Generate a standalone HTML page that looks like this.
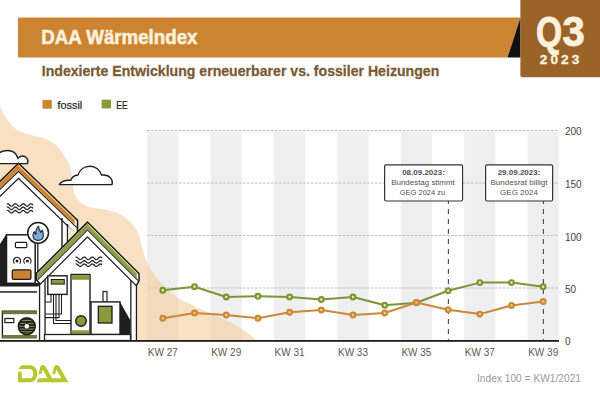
<!DOCTYPE html>
<html><head><meta charset="utf-8">
<style>
html,body{margin:0;padding:0;background:#fff;width:600px;height:400px;overflow:hidden}
svg{display:block}
text{font-family:"Liberation Sans",sans-serif}
</style></head>
<body>
<svg width="600" height="400" viewBox="0 0 600 400">
<rect x="0" y="0" width="600" height="400" fill="#fff"/>

<!-- chart stripes -->
<g fill="#efefef">
<rect x="147.2" y="132" width="31.2" height="208"/>
<rect x="210.6" y="132" width="31.2" height="208"/>
<rect x="274.0" y="132" width="31.2" height="208"/>
<rect x="337.4" y="132" width="31.2" height="208"/>
<rect x="400.8" y="132" width="31.2" height="208"/>
<rect x="464.2" y="132" width="31.2" height="208"/>
<rect x="527.6" y="132" width="31.2" height="208"/>
</g>
<!-- gridlines -->
<g stroke="#bdbdbd" stroke-width="1" stroke-dasharray="2.6 1.4">
<line x1="147" y1="130.5" x2="559" y2="130.5"/>
<line x1="147" y1="183" x2="559" y2="183"/>
<line x1="147" y1="235.5" x2="559" y2="235.5"/>
<line x1="147" y1="288" x2="559" y2="288"/>
</g>

<!-- beige blob -->
<path id="blob" fill="#f3cb9b" fill-opacity="0.6" d="M-2,342 L-2,103.5 C-1.7,104.0 -1.2,104.5 0.0,106.6 C1.2,108.7 3.5,113.4 5.2,116.3 C7.0,119.2 8.5,121.7 10.5,124.0 C12.5,126.3 14.3,128.5 17.5,130.3 C20.7,132.1 25.4,133.4 29.8,134.7 C34.2,136.0 40.0,136.9 43.8,138.2 C47.6,139.5 49.8,140.6 52.5,142.5 C55.2,144.4 57.9,147.1 60.0,149.5 C62.1,151.9 63.5,154.6 65.0,157.0 C66.5,159.4 68.0,160.3 69.2,163.7 C70.4,167.1 71.2,172.7 72.0,177.5 C72.8,182.3 73.0,188.5 74.2,192.5 C75.5,196.5 76.8,199.0 79.5,201.5 C82.2,204.0 86.2,206.0 90.5,207.3 C94.8,208.6 100.3,208.5 105.0,209.5 C109.7,210.5 114.6,211.5 118.7,213.5 C122.8,215.5 126.5,218.2 129.7,221.4 C132.9,224.6 136.0,228.2 138.0,232.4 C140.0,236.6 140.4,241.7 141.8,246.5 C143.2,251.3 144.5,257.0 146.5,261.5 C148.5,266.0 150.6,269.3 153.8,273.8 C156.9,278.2 161.6,284.0 165.6,288.0 C169.6,292.0 172.3,294.3 177.5,297.5 C182.7,300.7 189.8,303.8 196.5,307.0 C203.2,310.2 211.2,313.3 217.9,316.5 C224.6,319.7 231.4,322.8 236.9,326.0 C242.4,329.2 247.7,333.0 251.0,335.5 C254.3,338.0 255.8,339.9 257.0,341.0 C258.2,342.1 257.8,341.8 258.0,342.0 Z"/>

<!-- axis labels right -->
<g font-size="10" fill="#444">
<text x="565" y="134.9">200</text>
<text x="565" y="188">150</text>
<text x="565" y="240.5">100</text>
<text x="565" y="292.7">50</text>
<text x="565" y="344.5">0</text>
</g>
<!-- x labels -->
<g font-size="10" fill="#5a5a5a" text-anchor="middle">
<text x="162.8" y="356">KW 27</text>
<text x="226.2" y="356">KW 29</text>
<text x="289.6" y="356">KW 31</text>
<text x="353" y="356">KW 33</text>
<text x="416.4" y="356">KW 35</text>
<text x="479.8" y="356">KW 37</text>
<text x="543.2" y="356">KW 39</text>
</g>

<!-- dashed vertical lines -->
<g stroke="#4a4a4a" stroke-width="1.1" stroke-dasharray="5 5">
<line x1="448.4" y1="199" x2="448.4" y2="340"/>
<line x1="543.4" y1="199" x2="543.4" y2="340"/>
</g>

<!-- annotation boxes -->
<g fill="#fff" stroke="#333" stroke-width="1.2">
<rect x="384.6" y="164.8" width="78" height="36.2" rx="1.5"/>
<rect x="485.6" y="164.8" width="67" height="36.2" rx="1.5"/>
</g>
<g font-size="8" fill="#505050" text-anchor="middle">
<text x="423.5" y="175" font-weight="bold">08.09.2023:</text>
<text x="423" y="185" textLength="63.5" lengthAdjust="spacingAndGlyphs">Bundestag stimmt</text>
<text x="422.5" y="194.5" textLength="45.5" lengthAdjust="spacingAndGlyphs">GEG 2024 zu</text>
<text x="519" y="175" font-weight="bold">29.09.2023:</text>
<text x="519" y="185">Bundesrat billigt</text>
<text x="519" y="194.5">GEG 2024</text>
</g>

<!-- data lines -->
<polyline fill="none" stroke="#7b9636" stroke-width="2" stroke-linejoin="round" points="162.8,290.3 194.5,286.7 226.2,297 257.9,296.2 289.6,297 321.3,299.5 353.0,297 384.7,305.3 416.4,302.8 448.1,290.8 479.8,282.6 511.5,282.6 543.2,286.8"/>
<g fill="#e9f0a8" stroke="#7b9636" stroke-width="2.2">
<circle cx="162.8" cy="290.3" r="2.35"/><circle cx="194.5" cy="286.7" r="2.35"/><circle cx="226.2" cy="297" r="2.35"/><circle cx="257.9" cy="296.2" r="2.35"/><circle cx="289.6" cy="297" r="2.35"/><circle cx="321.3" cy="299.5" r="2.35"/><circle cx="353.0" cy="297" r="2.35"/><circle cx="384.7" cy="305.3" r="2.35"/><circle cx="416.4" cy="302.8" r="2.35"/><circle cx="448.1" cy="290.8" r="2.35"/><circle cx="479.8" cy="282.6" r="2.35"/><circle cx="511.5" cy="282.6" r="2.35"/><circle cx="543.2" cy="286.8" r="2.35"/>
</g>
<polyline fill="none" stroke="#cc8838" stroke-width="2" stroke-linejoin="round" points="162.8,318.3 194.5,313 226.2,315 257.9,318.3 289.6,312.2 321.3,310 353.0,315 384.7,313 416.4,302.5 448.1,309.7 479.8,314.1 511.5,305.5 543.2,301.5"/>
<g fill="#f8d070" stroke="#cc8838" stroke-width="2.2">
<circle cx="162.8" cy="318.3" r="2.35"/><circle cx="194.5" cy="313" r="2.35"/><circle cx="226.2" cy="315" r="2.35"/><circle cx="257.9" cy="318.3" r="2.35"/><circle cx="289.6" cy="312.2" r="2.35"/><circle cx="321.3" cy="310" r="2.35"/><circle cx="353.0" cy="315" r="2.35"/><circle cx="384.7" cy="313" r="2.35"/><circle cx="416.4" cy="302.5" r="2.35"/><circle cx="448.1" cy="309.7" r="2.35"/><circle cx="479.8" cy="314.1" r="2.35"/><circle cx="511.5" cy="305.5" r="2.35"/><circle cx="543.2" cy="301.5" r="2.35"/>
</g>


<!-- HOUSE ILLUSTRATION placeholder -->
<g id="house">
<!-- left cloud -->
<path fill="#fff" stroke="#1e1e1e" stroke-width="1.4" d="M-5,163.6 L27.4,163.6 C28.8,159.5 26.5,156 22.5,156 C20.5,156 19,157 18,158.3 C16.5,153.5 12.5,150.5 7.5,150.5 C1,150.5 -3,154 -5,158 Z"/>
<!-- right cloud -->
<path fill="#fff" stroke="#1e1e1e" stroke-width="1.4" stroke-linejoin="round" d="M59.3,184.6 L112,184.6 C113.5,179.5 109.5,175 103.5,175 L101.5,175 C100,170 95.5,166.3 90,166.3 C84,166.3 79.5,170 78,175 C74.5,175.3 71.8,177.3 70.8,180.3 C66,180 61,181.5 59.3,184.6 Z"/>
<path fill="#fff" d="M-30.00,225.10 L18.50,178.30 L67.50,225.59 L67.50,341.00 L-30.00,341.00 Z"/>
<path fill="#1e1e1e" d="M-30.00,209.10 L18.50,162.30 L78.30,220.01 L78.30,237.01 L18.50,179.30 L-30.00,226.10 Z"/>
<path fill="#fff" d="M-30.00,211.40 L18.50,164.60 L76.70,220.76 L76.70,233.76 L18.50,177.60 L-30.00,224.40 Z"/>
<path fill="#1e1e1e" d="M-30.00,217.40 L18.50,170.60 L76.70,226.76 L76.70,228.36 L18.50,172.20 L-30.00,219.00 Z"/>
<path fill="#cd8432" d="M-30.00,211.40 L18.50,164.60 L74.70,218.83 L74.70,224.83 L18.50,170.60 L-30.00,217.40 Z"/>
<path fill="#f2d3a4" d="M18.50,164.60 L74.70,218.83 L74.70,220.1 L19.5,166.8 Z"/>
<!-- big house right wall -->
<rect x="61.3" y="218" width="1.4" height="40" fill="#1e1e1e"/>
<rect x="66.8" y="224" width="1.4" height="30" fill="#1e1e1e"/>
<path fill="#f3e4cf" d="M68.2,226 L78.3,235 L68.2,245 Z"/>
<!-- waves -->
<g fill="none" stroke="#1e1e1e" stroke-width="1.2" stroke-linecap="round">
<path d="M7.30,203.79 L7.81,203.77 L8.32,203.95 L8.82,204.31 L9.33,204.78 L9.84,205.29 L10.35,205.75 L10.86,206.09 L11.36,206.24 L11.87,206.19 L12.38,205.95 L12.89,205.55 L13.40,205.05 L13.90,204.55 L14.41,204.13 L14.92,203.84 L15.43,203.75 L15.94,203.86 L16.44,204.17 L16.95,204.61 L17.46,205.11 L17.97,205.60 L18.48,205.98 L18.98,206.21 L19.49,206.24 L20.00,206.06 L20.51,205.70 L21.02,205.23 L21.52,204.73 L22.03,204.26 L22.54,203.92 L23.05,203.76 L23.56,203.80 L24.06,204.04 L24.57,204.44 L25.08,204.93 L25.59,205.43 L26.10,205.86 L26.60,206.15 L27.11,206.25 L27.62,206.14 L28.13,205.85 L28.64,205.41 L29.14,204.91 L29.65,204.42 L30.16,204.03 L30.67,203.79 L31.18,203.76 L31.68,203.93 L32.19,204.28 L32.70,204.75"/>
<path d="M7.30,207.09 L7.81,207.07 L8.32,207.25 L8.82,207.61 L9.33,208.08 L9.84,208.59 L10.35,209.05 L10.86,209.39 L11.36,209.54 L11.87,209.49 L12.38,209.25 L12.89,208.85 L13.40,208.35 L13.90,207.85 L14.41,207.43 L14.92,207.14 L15.43,207.05 L15.94,207.16 L16.44,207.47 L16.95,207.91 L17.46,208.41 L17.97,208.90 L18.48,209.28 L18.98,209.51 L19.49,209.54 L20.00,209.36 L20.51,209.00 L21.02,208.53 L21.52,208.03 L22.03,207.56 L22.54,207.22 L23.05,207.06 L23.56,207.10 L24.06,207.34 L24.57,207.74 L25.08,208.23 L25.59,208.73 L26.10,209.16 L26.60,209.45 L27.11,209.55 L27.62,209.44 L28.13,209.15 L28.64,208.71 L29.14,208.21 L29.65,207.72 L30.16,207.33 L30.67,207.09 L31.18,207.06 L31.68,207.23 L32.19,207.58 L32.70,208.05"/>
<path d="M7.30,210.49 L7.81,210.47 L8.32,210.65 L8.82,211.01 L9.33,211.48 L9.84,211.99 L10.35,212.45 L10.86,212.79 L11.36,212.94 L11.87,212.89 L12.38,212.65 L12.89,212.25 L13.40,211.75 L13.90,211.25 L14.41,210.83 L14.92,210.54 L15.43,210.45 L15.94,210.56 L16.44,210.87 L16.95,211.31 L17.46,211.81 L17.97,212.30 L18.48,212.68 L18.98,212.91 L19.49,212.94 L20.00,212.76 L20.51,212.40 L21.02,211.93 L21.52,211.43 L22.03,210.96 L22.54,210.62 L23.05,210.46 L23.56,210.50 L24.06,210.74 L24.57,211.14 L25.08,211.63 L25.59,212.13 L26.10,212.56 L26.60,212.85 L27.11,212.95 L27.62,212.84 L28.13,212.55 L28.64,212.11 L29.14,211.61 L29.65,211.12 L30.16,210.73 L30.67,210.49 L31.18,210.46 L31.68,210.63 L32.19,210.98 L32.70,211.45"/>
</g>
<!-- boiler -->
<path fill="#1e1e1e" d="M-2,247 L6.5,234 L6.5,284 L-2,284 Z"/>
<rect x="6.5" y="234.8" width="28.7" height="48.5" fill="#fff" stroke="#1e1e1e" stroke-width="1.5"/>
<rect x="15.4" y="242.3" width="11.4" height="5.3" rx="1.2" fill="#fff" stroke="#1e1e1e" stroke-width="1.2"/>
<path fill="none" stroke="#1e1e1e" stroke-width="1.2" d="M14.45,263.55 A3.6,3.6 0 1 1 19.55,263.55 M24.85,263.55 A3.6,3.6 0 1 1 29.95,263.55"/>
<circle cx="17" cy="261" r="1.5" fill="#1e1e1e"/>
<circle cx="27.4" cy="261" r="1.5" fill="#1e1e1e"/>
<rect x="12.3" y="269.8" width="18.6" height="9.6" rx="1.3" fill="#cd8432" stroke="#1e1e1e" stroke-width="1.3"/>
<rect x="-2" y="283" width="41.8" height="3.5" fill="#1e1e1e"/>
<rect x="-2" y="291.2" width="41.8" height="1.5" fill="#1e1e1e"/>
<!-- flame circle -->
<line x1="37.8" y1="243" x2="37.8" y2="282" stroke="#1e1e1e" stroke-width="1.3"/>
<circle cx="38.1" cy="232.8" r="10.4" fill="#fff" stroke="#1e1e1e" stroke-width="1.5"/>
<path fill="#7fa9d6" stroke="#1b2838" stroke-width="1.1" stroke-linejoin="round" d="M38.1,240.4 C35,240.4 33,238.4 33,235.5 C33,233.5 33.6,232.3 34.3,231.6 C34.6,233 35.2,234 36,234.3 C35.6,231 36.6,228 38.6,226.2 C38.6,229 39.8,231 40.9,232.3 C41.5,231.6 41.9,230.7 42.2,230 C43,231.2 43.3,233.5 43.3,235.5 C43.3,238.4 41.2,240.4 38.1,240.4 Z"/>
<!-- heat pump -->
<rect x="2.4" y="311.2" width="36.6" height="26.5" fill="#fff" stroke="#1e1e1e" stroke-width="1.4"/>
<rect x="2.4" y="311.2" width="36.6" height="3" fill="#6f7a3a"/>
<rect x="2.4" y="335" width="36.6" height="3" fill="#6f7a3a"/>
<rect x="4.9" y="318.5" width="8.9" height="4.1" fill="#fff" stroke="#1e1e1e" stroke-width="1.2"/>
<circle cx="26.8" cy="326.3" r="9.2" fill="#1e1e1e"/>
<clipPath id="fanc"><circle cx="26.8" cy="326.3" r="7.6"/></clipPath>
<g stroke="#9aa455" stroke-width="0.9" clip-path="url(#fanc)">
<line x1="17" y1="318.6" x2="37" y2="318.6"/>
<line x1="17" y1="320.6" x2="37" y2="320.6"/>
<line x1="17" y1="323.4" x2="37" y2="323.4"/>
<line x1="17" y1="326.3" x2="37" y2="326.3"/>
<line x1="17" y1="329.1" x2="37" y2="329.1"/>
<line x1="17" y1="331.8" x2="37" y2="331.8"/>
<line x1="17" y1="334" x2="37" y2="334"/>
</g>
<circle cx="26.8" cy="326.3" r="2.9" fill="#fff" stroke="#1e1e1e" stroke-width="1"/>
<path fill="#fff" d="M37.00,287.60 L87.50,237.10 L137.00,286.60 L137.00,341.00 L37.00,341.00 Z"/>
<g fill="none" stroke="#1e1e1e" stroke-width="1.2" stroke-linecap="round">
<path d="M76.00,257.06 L76.50,257.10 L77.01,257.32 L77.51,257.68 L78.02,258.15 L78.52,258.63 L79.02,259.06 L79.53,259.38 L80.03,259.54 L80.54,259.51 L81.04,259.29 L81.54,258.93 L82.05,258.47 L82.55,257.99 L83.05,257.55 L83.56,257.23 L84.06,257.06 L84.57,257.09 L85.07,257.29 L85.57,257.65 L86.08,258.11 L86.58,258.60 L87.09,259.04 L87.59,259.37 L88.09,259.53 L88.60,259.52 L89.10,259.32 L89.61,258.96 L90.11,258.51 L90.61,258.02 L91.12,257.58 L91.62,257.24 L92.13,257.07 L92.63,257.08 L93.13,257.27 L93.64,257.62 L94.14,258.07 L94.65,258.56 L95.15,259.01 L95.65,259.35 L96.16,259.53 L96.66,259.52 L97.16,259.34 L97.67,258.99 L98.17,258.54 L98.68,258.06 L99.18,257.61 L99.68,257.26 L100.19,257.08 L100.69,257.07 L101.20,257.25 L101.70,257.59"/>
<path d="M76.00,260.66 L76.50,260.70 L77.01,260.92 L77.51,261.28 L78.02,261.75 L78.52,262.23 L79.02,262.66 L79.53,262.98 L80.03,263.14 L80.54,263.11 L81.04,262.89 L81.54,262.53 L82.05,262.07 L82.55,261.59 L83.05,261.15 L83.56,260.83 L84.06,260.66 L84.57,260.69 L85.07,260.89 L85.57,261.25 L86.08,261.71 L86.58,262.20 L87.09,262.64 L87.59,262.97 L88.09,263.13 L88.60,263.12 L89.10,262.92 L89.61,262.56 L90.11,262.11 L90.61,261.62 L91.12,261.18 L91.62,260.84 L92.13,260.67 L92.63,260.68 L93.13,260.87 L93.64,261.22 L94.14,261.67 L94.65,262.16 L95.15,262.61 L95.65,262.95 L96.16,263.13 L96.66,263.12 L97.16,262.94 L97.67,262.59 L98.17,262.14 L98.68,261.66 L99.18,261.21 L99.68,260.86 L100.19,260.68 L100.69,260.67 L101.20,260.85 L101.70,261.19"/>
<path d="M76.00,263.96 L76.50,264.00 L77.01,264.22 L77.51,264.58 L78.02,265.05 L78.52,265.53 L79.02,265.96 L79.53,266.28 L80.03,266.44 L80.54,266.41 L81.04,266.19 L81.54,265.83 L82.05,265.37 L82.55,264.89 L83.05,264.45 L83.56,264.13 L84.06,263.96 L84.57,263.99 L85.07,264.19 L85.57,264.55 L86.08,265.01 L86.58,265.50 L87.09,265.94 L87.59,266.27 L88.09,266.43 L88.60,266.42 L89.10,266.22 L89.61,265.86 L90.11,265.41 L90.61,264.92 L91.12,264.48 L91.62,264.14 L92.13,263.97 L92.63,263.98 L93.13,264.17 L93.64,264.52 L94.14,264.97 L94.65,265.46 L95.15,265.91 L95.65,266.25 L96.16,266.43 L96.66,266.42 L97.16,266.24 L97.67,265.89 L98.17,265.44 L98.68,264.96 L99.18,264.51 L99.68,264.16 L100.19,263.98 L100.69,263.97 L101.20,264.15 L101.70,264.49"/>
</g>
<!-- small house walls -->
<rect x="38.9" y="276" width="1.3" height="65" fill="#1e1e1e"/>
<rect x="44.4" y="276" width="1.3" height="65" fill="#1e1e1e"/>
<rect x="130.2" y="276" width="1.3" height="65" fill="#1e1e1e"/>
<rect x="135.8" y="276" width="1.3" height="65" fill="#1e1e1e"/>
<clipPath id="srO"><path d="M35.6,0 L139.8,0 L139.8,281.3 L137.1,285.5 L137.1,400 L39.2,400 L39.2,284 L35.6,280.2 Z"/></clipPath>
<clipPath id="srI"><path d="M37.1,0 L138.3,0 L138.3,280.86 L135.84,284.69 L135.84,400 L40.3,400 L40.3,283 L37.1,279.6 Z"/></clipPath>
<g clip-path="url(#srO)"><path fill="#1e1e1e" d="M20.00,288.60 L87.50,221.10 L160.00,293.60 L160.00,310.30 L87.50,237.80 L20.00,305.30 Z"/></g>
<g clip-path="url(#srI)">
<path fill="#fff" d="M20.00,290.80 L87.50,223.30 L160.00,295.80 L160.00,308.60 L87.50,236.10 L20.00,303.60 Z"/>
<path fill="#1e1e1e" d="M20.00,296.80 L87.50,229.30 L160.00,301.80 L160.00,303.30 L87.50,230.80 L20.00,298.30 Z"/>
<path fill="#8e9b48" d="M20.00,290.80 L87.50,223.30 L136.80,272.60 L136.80,278.60 L87.50,229.30 L20.00,296.80 Z"/>
<path fill="#d6e09a" d="M87.50,223.30 L136.80,272.60 L136.80,273.80 L88.5,225.5 Z"/>
</g>
<!-- meter -->
<rect x="47.8" y="275.8" width="19.3" height="18.6" fill="#fff" stroke="#1e1e1e" stroke-width="1.4"/>
<rect x="51.3" y="279.5" width="13" height="4.6" fill="#8a9a3a" stroke="#1e1e1e" stroke-width="1"/>
<g fill="none" stroke="#1e1e1e" stroke-width="1.1">
<path d="M53.5,294.4 V323.5 H71"/>
<path d="M56,294.4 V320.5 H71"/>
<path d="M59,294.4 V317.6 H45"/>
<path d="M61.5,294.4 V314 H45"/>
<path d="M45,302 H51 V294.4"/>
</g>
<!-- tank -->
<rect x="71" y="274.5" width="19" height="61" fill="#fff" stroke="#1e1e1e" stroke-width="1.4"/>
<rect x="71.7" y="275.2" width="17.6" height="4.6" fill="#8a9a3a"/>
<rect x="71.7" y="330.3" width="17.6" height="4.6" fill="#8a9a3a"/>
<circle cx="81" cy="321" r="5.3" fill="#8a9a3a" stroke="#1e1e1e" stroke-width="1.4"/>
<!-- heater -->
<rect x="103" y="291.5" width="4" height="10.4" fill="#fff" stroke="#1e1e1e" stroke-width="1.2"/>
<path fill="#1e1e1e" d="M120,301.9 L130.2,320 L130.2,334.5 L120,334.5 Z"/>
<rect x="91" y="301.9" width="29" height="32.6" fill="#fff" stroke="#1e1e1e" stroke-width="1.4"/>
<rect x="98.3" y="306.3" width="13.7" height="16.7" fill="#8a9a3a" stroke="#1e1e1e" stroke-width="1.3"/>
<!-- floor -->
<rect x="44.5" y="334.5" width="86" height="6" fill="#fff" stroke="#1e1e1e" stroke-width="1.3"/>

</g>

<!-- x axis -->
<rect x="0" y="340" width="559" height="1.8" fill="#1e1e1e"/>

<!-- header -->
<path d="M19,17.5 L520.5,17.5 L507.5,57.5 L19,57.5 Q18,57.5 18,56.5 L18,18.5 Q18,17.5 19,17.5 Z" fill="#cd8432"/>
<path d="M520.5,17.5 L507.5,57.5 L520.5,57.5 Z" fill="#111"/>
<path d="M520.4,0 L600,0 L600,77.2 L522.4,77.2 Q520.4,77.2 520.4,75.2 Z" fill="#9a6328"/>
<text x="41.2" y="43.9" font-size="20" font-weight="bold" fill="#fbf1dc" stroke="#fbf1dc" stroke-width="0.55" textLength="156.3" lengthAdjust="spacingAndGlyphs">DAA Wärmelndex</text>
<text x="41.75" y="75.6" font-size="15.5" font-weight="bold" fill="#7a5a33" stroke="#7a5a33" stroke-width="0.3" textLength="397.5" lengthAdjust="spacingAndGlyphs">Indexierte Entwicklung erneuerbarer vs. fossiler Heizungen</text>
<text transform="translate(536,46.2) scale(0.78,1)" font-size="43" font-weight="bold" fill="#fbf1dc" stroke="#fbf1dc" stroke-width="0.9">Q</text><text transform="translate(562.5,46.2) scale(0.93,1)" font-size="43" font-weight="bold" fill="#fbf1dc" stroke="#fbf1dc" stroke-width="0.9">3</text>
<text x="539.8" y="64" font-size="13.6" font-weight="bold" fill="#fbf1dc" stroke="#fbf1dc" stroke-width="0.35" textLength="39.5" lengthAdjust="spacing">2023</text>

<!-- legend -->
<rect x="42.5" y="100" width="9.3" height="8.7" fill="#cd8432"/>
<text x="57.5" y="108.8" font-size="11.5" fill="#1a1a1a" stroke="#1a1a1a" stroke-width="0.2" textLength="24.7" lengthAdjust="spacingAndGlyphs">fossil</text>
<rect x="101.7" y="99.7" width="9.3" height="8.7" fill="#8a9a3a"/>
<text x="116.3" y="109" font-size="11.2" fill="#1a1a1a" stroke="#1a1a1a" stroke-width="0.2" textLength="11.4" lengthAdjust="spacingAndGlyphs">EE</text>

<!-- footer -->
<text x="477" y="382" font-size="10" fill="#9a9a9a" textLength="104" lengthAdjust="spacingAndGlyphs">Index 100 = KW1/2021</text>

<!-- DAA logo -->
<g id="logo" fill="#b5c830">
<path d="M18.3,369 L21.6,365.2 L30,365.2 C34.6,365.2 37.2,369 37.2,373.7 C37.2,378.5 34.6,382.2 30,382.2 L18,382.2 L18,371.8 L21.8,371.8 L21.8,378.3 L29.8,378.3 C32.2,378.3 33.3,376.2 33.3,373.7 C33.3,371.2 32.2,369 29.8,369 Z"/>
<path d="M38.6,374 L40.1,367.3 Q40.7,365 42.7,365 Q44.6,365 45.5,366.6 L54.6,382.2 L36.4,382.2 L38.6,378.3 L47.5,378.3 L42.6,369.4 L41.3,374 Z"/>
<path d="M52.4,374 L53.9,367.3 Q54.5,365 56.5,365 Q58.4,365 59.3,366.6 L68.4,382.2 L50.2,382.2 L52.4,378.3 L61.3,378.3 L56.4,369.4 L55.1,374 Z"/>
</g>
</svg>
</body></html>
